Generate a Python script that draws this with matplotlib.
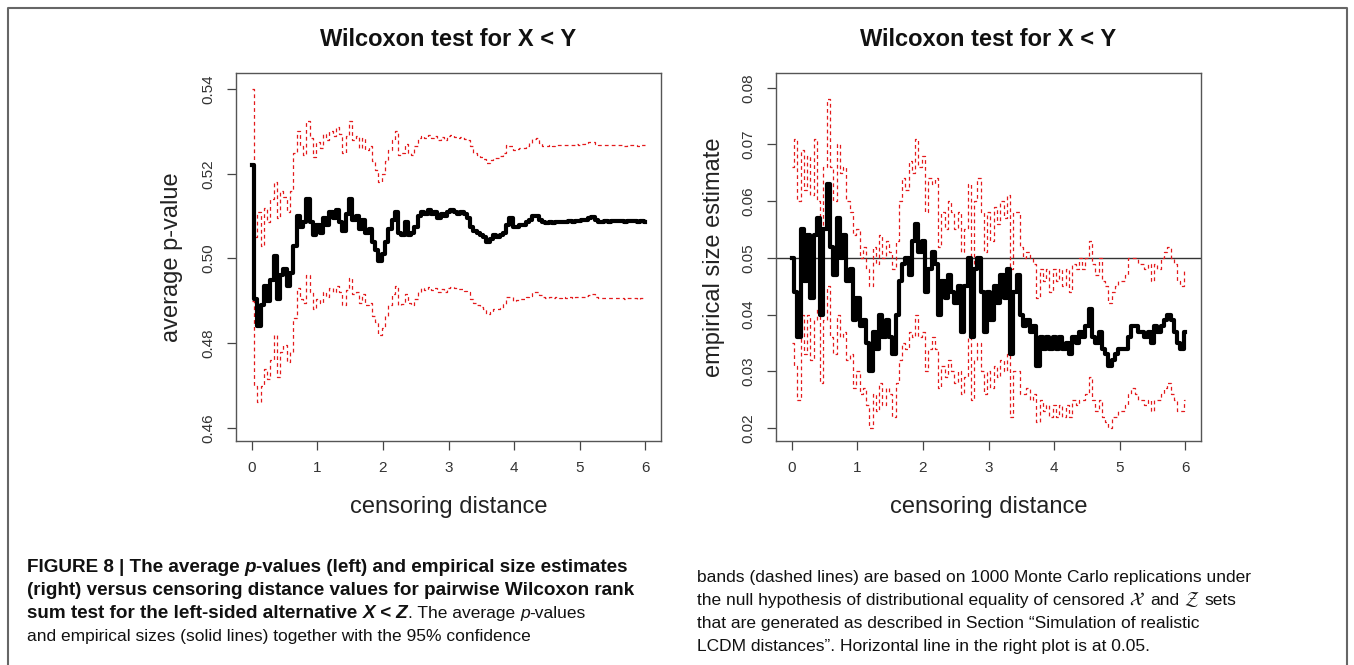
import matplotlib
matplotlib.use('Agg')
import matplotlib.pyplot as plt
import numpy as np
from matplotlib import font_manager
from matplotlib.lines import Line2D

W, H = 1354, 665

# censoring distance grid (121 steps from ~0 to 6)
distance = np.linspace(0.01, 6.0, 121)

# left panel: average p-value with 95% band
left_mean = [
    0.5220, 0.4905, 0.4840, 0.4890, 0.4935, 0.4900, 0.4950, 0.5005, 0.4905, 0.4960,
    0.4975, 0.4935, 0.4965, 0.5030, 0.5100, 0.5075, 0.5085, 0.5140, 0.5085, 0.5055,
    0.5080, 0.5060, 0.5095, 0.5080, 0.5110, 0.5095, 0.5115, 0.5085, 0.5065, 0.5105,
    0.5140, 0.5090, 0.5100, 0.5070, 0.5090, 0.5060, 0.5070, 0.5040, 0.5020, 0.4995,
    0.5010, 0.5040, 0.5070, 0.5090, 0.5110, 0.5060, 0.5055, 0.5085, 0.5055, 0.5060,
    0.5075, 0.5100, 0.5110, 0.5105, 0.5115, 0.5105, 0.5110, 0.5095, 0.5105, 0.5100,
    0.5110, 0.5115, 0.5110, 0.5105, 0.5110, 0.5105, 0.5095, 0.5075, 0.5065, 0.5060,
    0.5055, 0.5050, 0.5040, 0.5045, 0.5055, 0.5050, 0.5055, 0.5060, 0.5080, 0.5095,
    0.5075, 0.5075, 0.5080, 0.5080, 0.5085, 0.5090, 0.5100, 0.5100, 0.5090, 0.5085,
    0.5083, 0.5085, 0.5084, 0.5087, 0.5085, 0.5087, 0.5086, 0.5088, 0.5087, 0.5089,
    0.5088, 0.5090, 0.5092, 0.5095, 0.5098, 0.5090, 0.5087, 0.5086, 0.5088, 0.5087,
    0.5088, 0.5089, 0.5088, 0.5088, 0.5087, 0.5088, 0.5089, 0.5088, 0.5087, 0.5089,
    0.5087]
left_hi = [
    0.5400, 0.5050, 0.5110, 0.5030, 0.5120, 0.5085, 0.5140, 0.5180, 0.5095, 0.5160,
    0.5145, 0.5110, 0.5160, 0.5250, 0.5300, 0.5265, 0.5245, 0.5325, 0.5285, 0.5240,
    0.5275, 0.5260, 0.5295, 0.5280, 0.5300, 0.5290, 0.5310, 0.5295, 0.5250, 0.5290,
    0.5325, 0.5280, 0.5290, 0.5260, 0.5285, 0.5255, 0.5265, 0.5230, 0.5210, 0.5180,
    0.5200, 0.5230, 0.5255, 0.5280, 0.5300, 0.5245, 0.5250, 0.5270, 0.5250, 0.5245,
    0.5265, 0.5285, 0.5290, 0.5285, 0.5292, 0.5285, 0.5290, 0.5280, 0.5288, 0.5280,
    0.5290, 0.5292, 0.5288, 0.5285, 0.5287, 0.5283, 0.5280, 0.5265, 0.5250, 0.5245,
    0.5240, 0.5235, 0.5225, 0.5232, 0.5238, 0.5237, 0.5242, 0.5250, 0.5268, 0.5265,
    0.5255, 0.5258, 0.5262, 0.5262, 0.5266, 0.5272, 0.5282, 0.5284, 0.5272, 0.5266,
    0.5265, 0.5267, 0.5266, 0.5268, 0.5267, 0.5268, 0.5267, 0.5269, 0.5268, 0.5270,
    0.5269, 0.5271, 0.5272, 0.5274, 0.5276, 0.5270, 0.5268, 0.5267, 0.5268, 0.5267,
    0.5268, 0.5267, 0.5268, 0.5267, 0.5266, 0.5267, 0.5268, 0.5267, 0.5266, 0.5267,
    0.5267]
left_lo = [
    0.4900, 0.4700, 0.4660, 0.4700, 0.4740, 0.4715, 0.4760, 0.4820, 0.4720, 0.4780,
    0.4795, 0.4755, 0.4780, 0.4860, 0.4930, 0.4905, 0.4895, 0.4960, 0.4920, 0.4880,
    0.4905, 0.4895, 0.4920, 0.4910, 0.4930, 0.4920, 0.4935, 0.4920, 0.4890, 0.4925,
    0.4955, 0.4915, 0.4920, 0.4895, 0.4915, 0.4890, 0.4895, 0.4865, 0.4850, 0.4820,
    0.4835, 0.4865, 0.4890, 0.4915, 0.4935, 0.4890, 0.4893, 0.4915, 0.4895, 0.4890,
    0.4905, 0.4922, 0.4930, 0.4925, 0.4932, 0.4925, 0.4930, 0.4922, 0.4928, 0.4922,
    0.4930, 0.4933, 0.4930, 0.4927, 0.4928, 0.4924, 0.4920, 0.4905, 0.4895, 0.4890,
    0.4885, 0.4880, 0.4868, 0.4873, 0.4880, 0.4880, 0.4884, 0.4892, 0.4910, 0.4908,
    0.4900, 0.4902, 0.4904, 0.4905, 0.4908, 0.4912, 0.4920, 0.4922, 0.4914, 0.4908,
    0.4907, 0.4908, 0.4906, 0.4908, 0.4907, 0.4908, 0.4906, 0.4908, 0.4907, 0.4909,
    0.4908, 0.4910, 0.4911, 0.4913, 0.4915, 0.4910, 0.4907, 0.4906, 0.4907, 0.4906,
    0.4907, 0.4906, 0.4907, 0.4906, 0.4905, 0.4906, 0.4907, 0.4906, 0.4905, 0.4906,
    0.4906]

# right panel: empirical size estimate with 95% band
right_size = [
    0.050, 0.044, 0.036, 0.055, 0.046, 0.054, 0.043, 0.054, 0.057, 0.040,
    0.055, 0.063, 0.052, 0.047, 0.057, 0.050, 0.054, 0.046, 0.048, 0.039,
    0.043, 0.038, 0.039, 0.035, 0.030, 0.037, 0.034, 0.040, 0.036, 0.039,
    0.036, 0.033, 0.040, 0.046, 0.049, 0.050, 0.047, 0.053, 0.056, 0.051,
    0.053, 0.044, 0.048, 0.051, 0.049, 0.040, 0.046, 0.043, 0.047, 0.044,
    0.042, 0.045, 0.037, 0.045, 0.050, 0.036, 0.048, 0.050, 0.044, 0.037,
    0.044, 0.039, 0.045, 0.042, 0.047, 0.043, 0.048, 0.033, 0.044, 0.047,
    0.040, 0.038, 0.039, 0.037, 0.038, 0.031, 0.036, 0.034, 0.036, 0.034,
    0.036, 0.034, 0.036, 0.034, 0.035, 0.033, 0.036, 0.035, 0.037, 0.036,
    0.038, 0.041, 0.036, 0.035, 0.037, 0.034, 0.033, 0.031, 0.032, 0.033,
    0.034, 0.034, 0.034, 0.036, 0.038, 0.038, 0.037, 0.037, 0.036, 0.037,
    0.035, 0.038, 0.037, 0.038, 0.039, 0.040, 0.039, 0.037, 0.035, 0.034,
    0.037]
right_hi = [
    0.066, 0.071, 0.060, 0.069, 0.062, 0.068, 0.061, 0.071, 0.060, 0.054,
    0.066, 0.078, 0.066, 0.060, 0.070, 0.065, 0.066, 0.060, 0.058, 0.054,
    0.055, 0.050, 0.052, 0.048, 0.045, 0.052, 0.049, 0.054, 0.050, 0.053,
    0.051, 0.048, 0.053, 0.060, 0.064, 0.062, 0.067, 0.065, 0.071, 0.066,
    0.068, 0.058, 0.064, 0.063, 0.064, 0.052, 0.058, 0.055, 0.060, 0.058,
    0.055, 0.058, 0.051, 0.055, 0.063, 0.049, 0.060, 0.064, 0.058, 0.051,
    0.058, 0.053, 0.059, 0.056, 0.060, 0.057, 0.061, 0.048, 0.058, 0.058,
    0.052, 0.050, 0.051, 0.050, 0.049, 0.043, 0.048, 0.046, 0.048, 0.044,
    0.048, 0.046, 0.048, 0.045, 0.048, 0.044, 0.049, 0.048, 0.050, 0.048,
    0.050, 0.053, 0.049, 0.047, 0.050, 0.046, 0.045, 0.042, 0.044, 0.045,
    0.046, 0.046, 0.047, 0.050, 0.050, 0.050, 0.049, 0.049, 0.048, 0.049,
    0.046, 0.049, 0.048, 0.050, 0.051, 0.052, 0.050, 0.049, 0.046, 0.045,
    0.048]
right_lo = [
    0.035, 0.031, 0.025, 0.040, 0.033, 0.040, 0.032, 0.039, 0.041, 0.028,
    0.039, 0.045, 0.036, 0.033, 0.040, 0.036, 0.037, 0.032, 0.033, 0.027,
    0.030, 0.026, 0.027, 0.024, 0.020, 0.026, 0.023, 0.028, 0.024, 0.027,
    0.026, 0.022, 0.028, 0.032, 0.035, 0.034, 0.037, 0.036, 0.040, 0.036,
    0.037, 0.030, 0.034, 0.036, 0.034, 0.027, 0.031, 0.029, 0.032, 0.030,
    0.028, 0.030, 0.026, 0.029, 0.036, 0.025, 0.032, 0.035, 0.030, 0.026,
    0.030, 0.027, 0.031, 0.029, 0.032, 0.030, 0.033, 0.022, 0.030, 0.030,
    0.026, 0.026, 0.027, 0.025, 0.026, 0.021, 0.025, 0.023, 0.024, 0.022,
    0.024, 0.022, 0.024, 0.022, 0.024, 0.022, 0.025, 0.024, 0.025, 0.025,
    0.026, 0.029, 0.025, 0.023, 0.025, 0.022, 0.021, 0.020, 0.022, 0.022,
    0.023, 0.023, 0.024, 0.026, 0.027, 0.026, 0.025, 0.025, 0.024, 0.025,
    0.023, 0.025, 0.025, 0.026, 0.027, 0.028, 0.026, 0.025, 0.023, 0.023,
    0.025]

left_yticks = [0.46, 0.48, 0.50, 0.52, 0.54]
right_yticks = [0.02, 0.03, 0.04, 0.05, 0.06, 0.07, 0.08]
size_level = 0.05

plt.rcParams['font.family'] = ['Liberation Sans', 'DejaVu Sans']

names = {f.name for f in font_manager.fontManager.ttflist}
if 'Liberation Sans Narrow' in names:
    cap_font, bold_size, reg_size = 'Liberation Sans Narrow', 13.5, 13.5
else:
    cap_font, bold_size, reg_size = 'Liberation Sans', 13.6, 12.5

fig = plt.figure(figsize=(W / 100, H / 100), dpi=100)


def px_box(x0, y0, x1, y1):
    return [x0 / W, 1 - y1 / H, (x1 - x0) / W, (y1 - y0) / H]


ax1 = fig.add_axes(px_box(236, 73, 661, 441))
ax2 = fig.add_axes(px_box(776, 73, 1201, 441))

red = '#e31a1c'
band = dict(color=red, lw=0.9, dashes=(3, 2.5), drawstyle='steps-mid')
ax1.plot(distance, left_hi, **band)
ax1.plot(distance, left_lo, **band)
ax1.plot(distance, left_mean, color='black', lw=3, drawstyle='steps-mid')

ax2.axhline(size_level, color='#333333', lw=1)
ax2.plot(distance, right_hi, **band)
ax2.plot(distance, right_lo, **band)
ax2.plot(distance, right_size, color='black', lw=3, drawstyle='steps-mid')


def dress(ax, yticks, ylim, ylabel, cx, lab_x):
    ax.set_xlim(-0.24, 6.24)
    ax.set_ylim(*ylim)
    ax.set_xticks(range(7))
    ax.set_yticks(yticks)
    ax.set_yticklabels(['%.2f' % v for v in yticks], rotation=90, va='center')
    ax.tick_params(direction='out', length=6.5, width=0.9, color='#444444',
                   pad=8, labelsize=11, labelcolor='#333333')
    for s in ax.spines.values():
        s.set_color('#555555')
        s.set_linewidth(1)
    fig.text(cx / W, 1 - 46 / H, 'Wilcoxon test for X < Y', fontsize=17,
             fontweight='bold', ha='center', va='baseline', color='#111111')
    fig.text(cx / W, 1 - 507 / H, 'censoring distance', fontsize=17,
             ha='center', va='center', color='#222222')
    fig.text(lab_x / W, 1 - 257 / H, ylabel, fontsize=17, rotation=90,
             ha='center', va='center', color='#222222')


dress(ax1, left_yticks, (0.4569, 0.5438), 'average p-value', 448.5, 172)
dress(ax2, right_yticks, (0.0177, 0.0826), 'empirical size estimate', 988.5, 714)

# page frame (open at the bottom)
fig.add_artist(Line2D([8 / W, 8 / W, 1347 / W, 1347 / W],
                      [-0.1, 1 - 8 / H, 1 - 8 / H, -0.1],
                      transform=fig.transFigure, color='#666666', lw=1.5))

# caption, built from styled pieces
renderer = fig.canvas.get_renderer()


def text_kw(kind):
    kw = dict(fontsize=reg_size, family=cap_font, va='baseline', ha='left',
              color='#111111')
    if 'b' in kind:
        kw['fontweight'] = 'bold'
        kw['fontsize'] = bold_size
    if 'i' in kind:
        kw['fontstyle'] = 'italic'
    if 'm' in kind:
        kw['math_fontfamily'] = 'stix'
        kw['fontsize'] = reg_size + 1
    return kw


def width_of(txt, kw):
    t = fig.text(0, 0, txt, **kw)
    w = t.get_window_extent(renderer).width
    t.remove()
    return w


def caption_line(x, base, parts):
    for txt, kind in parts:
        kw = text_kw(kind)
        space = width_of('a a', kw) - width_of('aa', kw)
        if txt.startswith(' '):
            x += space
        t = fig.text(x / W, 1 - base / H, txt.strip(), **kw)
        x += t.get_window_extent(renderer).width
        if txt.endswith(' '):
            x += space


left_lines = [
    [('FIGURE 8 | The average ', 'b'), ('p', 'bi'),
     ('-values (left) and empirical size estimates', 'b')],
    [('(right) versus censoring distance values for pairwise Wilcoxon rank', 'b')],
    [('sum test for the left-sided alternative ', 'b'), ('X < Z', 'bi'),
     ('. The average ', 'r'), ('p', 'i'), ('-values', 'r')],
    [('and empirical sizes (solid lines) together with the 95% confidence', 'r')],
]
right_lines = [
    [('bands (dashed lines) are based on 1000 Monte Carlo replications under', 'r')],
    [('the null hypothesis of distributional equality of censored ', 'r'),
     (r'$\mathcal{X}$', 'm'), (' and ', 'r'), (r'$\mathcal{Z}$', 'm'), (' sets', 'r')],
    [('that are generated as described in Section \u201cSimulation of realistic', 'r')],
    [('LCDM distances\u201d. Horizontal line in the right plot is at 0.05.', 'r')],
]
for i, parts in enumerate(left_lines):
    caption_line(27, 572 + 23 * i, parts)
for i, parts in enumerate(right_lines):
    caption_line(697, 582 + 23 * i, parts)

fig.savefig('out.png', dpi=100)
